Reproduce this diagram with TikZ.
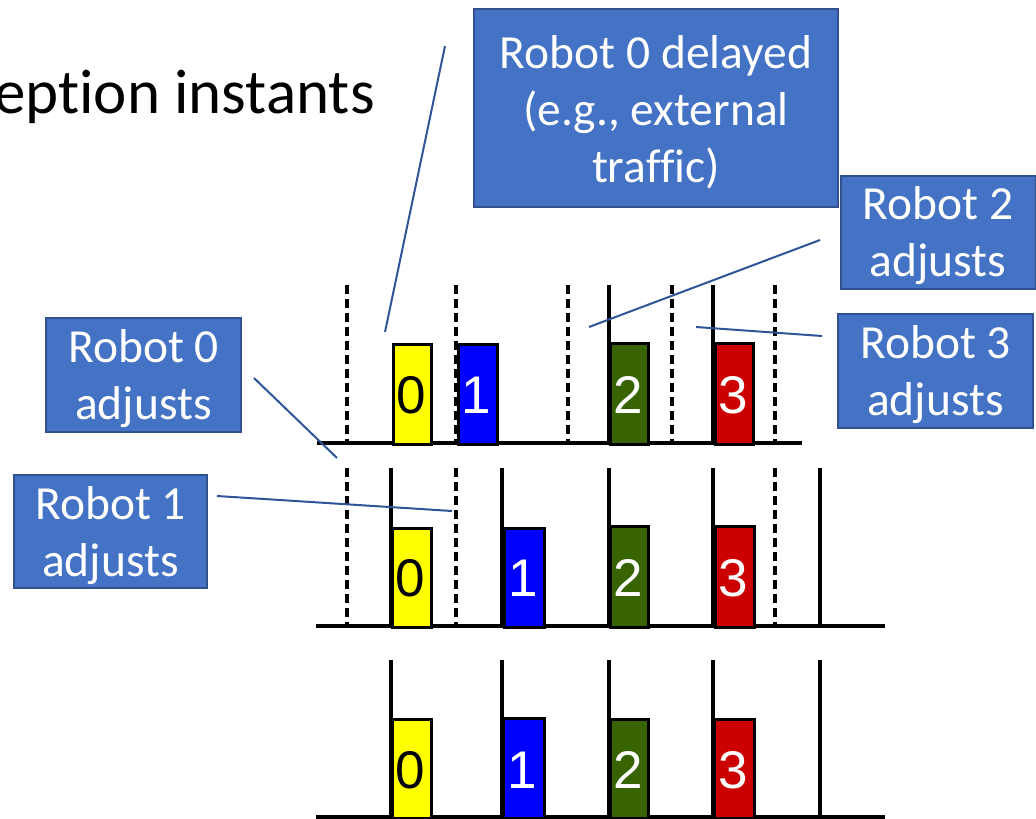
\documentclass[tikz,border=0pt]{standalone}
\usepackage{fontspec}
\newfontfamily\calibri[Ligatures=NoCommon]{Carlito}
\newfontfamily\arialf{Liberation Sans}
\definecolor{boxblue}{HTML}{4472C4}
\definecolor{boxedge}{HTML}{2F528F}
\definecolor{linkblue}{HTML}{2F5597}
\definecolor{rgreen}{HTML}{376400}
\definecolor{rred}{HTML}{CC0000}
\definecolor{ryellow}{HTML}{FFFF00}
\definecolor{rblue}{HTML}{0000FF}

% one robot slot: name, left x, right x, top y, base y, fill, digit colour, digit, digit y
\newcommand\robot[9]{%
  \node[bar, fill=#6, minimum width={(#3-#2)*1pt}, minimum height={(#5-#4)*1pt}] (#1) at (#2,#4) {};
  \node[digit, text=#7] (#1n) at ({(#2+#3)/2},#9) {#8};
}
% one callout: name, centre x, centre y, width, height, text
\newcommand\callout[6]{%
  \node[calloutbox, minimum width=#4pt, minimum height=#5pt] (#1) at (#2,#3) {};
  \node[callouttext] (#1t) at ([yshift=-4pt]#1.center) {#6};
}

\begin{document}
\begin{tikzpicture}[x=1pt,y=-1pt,
  calloutbox/.style={draw=boxedge, line width=2pt, fill=boxblue, inner sep=0pt},
  callouttext/.style={text=white, align=center, inner sep=0pt,
    font=\calibri\fontsize{47.5}{57}\selectfont},
  link/.style={draw=linkblue, line width=2pt},
  ground/.style={line width=4.2pt},
  slot/.style={line width=3.6pt},
  dslot/.style={line width=3.6pt, dash pattern=on 9pt off 5pt},
  bar/.style={draw=black, line width=2.6pt, inner sep=0pt, anchor=north west},
  digit/.style={font=\arialf\fontsize{53}{53}\selectfont, inner sep=0pt},
]
\useasboundingbox (0,0) rectangle (1036,819);
\clip (0,0) rectangle (1036,819);

% heading, cut by the page edge
\node[anchor=base east, inner sep=0pt, font=\calibri\fontsize{63}{63}\selectfont] (title) at (375,113) {eption instants};

% ---- top timeline: before adjustment
\foreach \x in {347,456,568,672,775} \draw[dslot] (\x,285) -- (\x,443);
\foreach \x in {609,713} \draw[slot] (\x,285) -- (\x,443);
\draw[ground] (317,443) -- (802,443);
\robot{a0}{392}{430}{343}{443}{ryellow}{black}{0}{395}
\robot{a1}{457}{496}{343}{443}{rblue}{white}{1}{395}
\robot{a2}{609}{647}{342}{443}{rgreen}{white}{2}{395}
\robot{a3}{714}{752}{342}{443}{rred}{white}{3}{395}

% ---- middle timeline
\foreach \x in {347,456,775} \draw[dslot] (\x,468) -- (\x,626);
\foreach \x in {391,502,609,713,820} \draw[slot] (\x,468) -- (\x,626);
\draw[ground] (316,626) -- (885,626);
\robot{b0}{391}{430}{527}{626}{ryellow}{black}{0}{578}
\robot{b1}{503}{543}{527}{626}{rblue}{white}{1}{578}
\robot{b2}{609}{647}{525}{626}{rgreen}{white}{2}{578}
\robot{b3}{714}{753}{525}{626}{rred}{white}{3}{578}

% ---- bottom timeline
\foreach \x in {391,502,609,713,820} \draw[slot] (\x,660) -- (\x,817);
\draw[ground] (316,817) -- (885,817);
\robot{c0}{391}{430}{718}{817}{ryellow}{black}{0}{770}
\robot{c1}{502}{543}{717}{817}{rblue}{white}{1}{770}
\robot{c2}{609}{647}{718}{817}{rgreen}{white}{2}{770}
\robot{c3}{713}{753}{718}{817}{rred}{white}{3}{770}

% ---- callouts
\callout{delay}{656}{108}{364}{198}{Robot 0 delayed\\(e.g., external\\traffic)}
\callout{adj2}{938}{232}{195}{113}{Robot 2\\adjusts}
\callout{adj3}{935.5}{371}{195}{114}{Robot 3\\adjusts}
\callout{adj0}{143.5}{375}{195}{114}{Robot 0\\adjusts}
\callout{adj1}{110.5}{531.5}{193}{113}{Robot 1\\adjusts}

% ---- callout pointers
\coordinate (delayA) at (445,46);   \coordinate (delayB) at (385,332);
\coordinate (adj2A) at (820,240);   \coordinate (adj2B) at (589,327);
\coordinate (adj3A) at (822,336);   \coordinate (adj3B) at (696,327);
\coordinate (adj0A) at (254,378);   \coordinate (adj0B) at (337,458);
\coordinate (adj1A) at (217,496);   \coordinate (adj1B) at (452,511);
\draw[link] (delayA) -- (delayB);
\draw[link] (adj2A) -- (adj2B);
\draw[link] (adj3A) -- (adj3B);
\draw[link] (adj0A) -- (adj0B);
\draw[link] (adj1A) -- (adj1B);
\end{tikzpicture}
\end{document}
